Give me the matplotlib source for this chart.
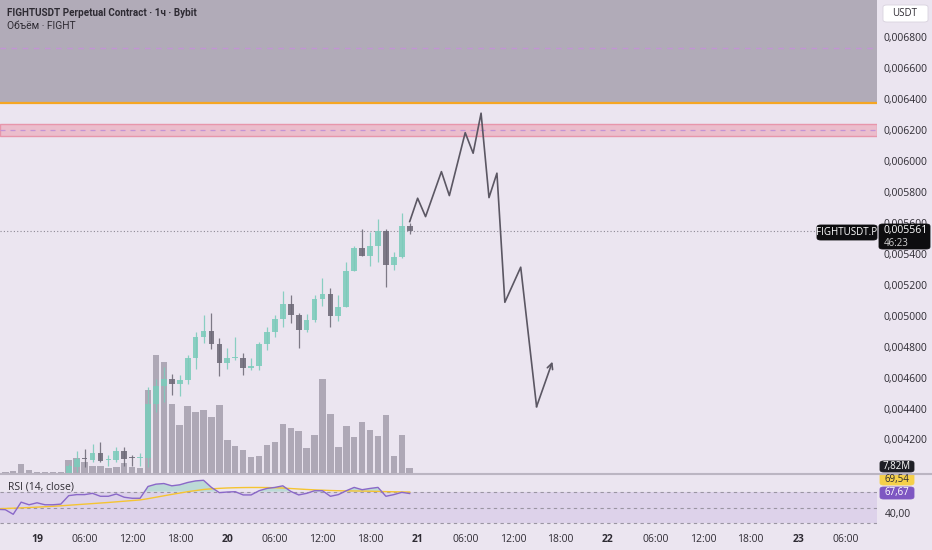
import numpy as np
import matplotlib.pyplot as plt
import matplotlib.transforms as mtransforms
from matplotlib.lines import Line2D
from matplotlib.patches import FancyBboxPatch

plt.rcParams['font.family'] = ['Open Sans', 'DejaVu Sans']

W, H = 932, 550
BG = '#ebe5f0'
TEAL = '#7ccbbb'
DARK = '#6e6a78'
VOLC = '#aea8b6'
TXT = '#2e2b33'

# candles, hours from 19th 00:00
c_hours = list(range(4, 48))
c_open = [0.003993, 0.004032, 0.004090, 0.004077, 0.004122, 0.004074, 0.004077, 0.004135,
          0.004090, 0.004087, 0.004090, 0.004439, 0.004556, 0.004601, 0.004569, 0.004595,
          0.004737, 0.004873, 0.004912, 0.004827, 0.004705, 0.004734, 0.004737, 0.004672,
          0.004685, 0.004827, 0.004905, 0.004989, 0.005086, 0.005015, 0.004918, 0.004983,
          0.005119, 0.005151, 0.005009, 0.005067, 0.005300, 0.005448, 0.005397, 0.005461,
          0.005558, 0.005338, 0.005390, 0.005591]
c_high = [0.004051, 0.004135, 0.004148, 0.004181, 0.004194, 0.004109, 0.004161, 0.004161,
          0.004109, 0.004122, 0.004549, 0.004601, 0.004679, 0.004633, 0.004627, 0.004756,
          0.004905, 0.005015, 0.005028, 0.004866, 0.004802, 0.004873, 0.004769, 0.004737,
          0.004840, 0.004937, 0.005015, 0.005170, 0.005144, 0.005028, 0.005021, 0.005144,
          0.005254, 0.005190, 0.005144, 0.005358, 0.005461, 0.005571, 0.005552, 0.005636,
          0.005571, 0.005423, 0.005675, 0.005610]
c_low = [0.003993, 0.003999, 0.004032, 0.004064, 0.004064, 0.004038, 0.004064, 0.004038,
         0.004038, 0.004038, 0.004032, 0.004388, 0.004452, 0.004498, 0.004491, 0.004569,
         0.004666, 0.004834, 0.004795, 0.004620, 0.004666, 0.004724, 0.004627, 0.004659,
         0.004659, 0.004789, 0.004873, 0.004937, 0.004963, 0.004802, 0.004905, 0.004970,
         0.005073, 0.004937, 0.004976, 0.005067, 0.005300, 0.005397, 0.005332, 0.005358,
         0.005196, 0.005306, 0.005384, 0.005539]
c_close = [0.004038, 0.004084, 0.004084, 0.004122, 0.004071, 0.004080, 0.004135, 0.004084,
           0.004087, 0.004090, 0.004439, 0.004556, 0.004601, 0.004569, 0.004595, 0.004737,
           0.004873, 0.004912, 0.004827, 0.004705, 0.004737, 0.004737, 0.004672, 0.004685,
           0.004827, 0.004905, 0.004989, 0.005086, 0.005015, 0.004918, 0.004983, 0.005119,
           0.005151, 0.005009, 0.005067, 0.005300, 0.005448, 0.005397, 0.005461, 0.005558,
           0.005338, 0.005390, 0.005591, 0.005561]

# volume (millions)
v_hours = list(range(-4, 48))
volume = [1.6, 2.6, 14.5, 4.2, 1.6, 1.6, 1.6, 1.6, 20.8, 23.0, 16.7, 11.4, 10.5, 7.3,
          8.9, 15.6, 8.9, 7.8, 130.2, 184.8, 173.0, 107.8, 75.0, 104.2, 94.8, 98.4,
          87.5, 106.7, 51.1, 41.7, 36.4, 25.0, 27.0, 43.0, 48.8, 77.0, 69.8, 66.1,
          39.1, 59.8, 146.9, 92.2, 40.2, 73.0, 55.8, 79.2, 67.7, 58.3, 90.2, 27.0,
          59.4, 7.82]

# RSI(14) and its moving average
r_hours = list(range(-5, 48))
rsi = [47.7, 47.3, 41.5, 56.8, 53.5, 56.0, 53.5, 53.5, 54.3, 65.0, 66.3, 66.3, 67.9,
       64.2, 64.2, 67.1, 63.0, 61.7, 61.7, 76.6, 79.5, 80.3, 77.4, 78.7, 81.6, 83.6,
       84.4, 75.4, 68.8, 69.6, 70.0, 65.9, 65.9, 71.2, 74.1, 75.4, 77.4, 70.4, 65.9,
       67.9, 71.2, 71.2, 64.2, 66.3, 71.2, 75.4, 72.5, 74.1, 75.4, 64.2, 66.3, 69.2, 67.67]
rsi_ma = [48.5, 48.8, 49.2, 49.6, 50.0, 50.5, 51.0, 51.6, 52.2, 52.9, 53.6, 54.3, 55.0,
          55.7, 56.4, 57.2, 58.0, 58.8, 59.6, 61.2, 63.0, 64.8, 66.6, 68.3, 70.0, 71.4,
          72.8, 73.6, 74.2, 74.7, 75.0, 75.2, 75.3, 75.3, 75.2, 75.0, 74.6, 74.0, 73.4,
          72.8, 72.3, 71.9, 71.5, 71.2, 71.0, 70.9, 70.8, 70.6, 70.4, 70.1, 69.9, 69.7, 69.54]

# drawn projection path
proj_hours = [47, 48, 49, 51, 52, 54, 55, 56, 57, 58, 59, 61, 63, 65]
proj_price = [0.005619, 0.005770, 0.005651, 0.005942, 0.005787, 0.006194, 0.006061,
              0.006320, 0.005774, 0.005932, 0.005097, 0.005324, 0.004422, 0.004713]

price_ticks = [0.0068, 0.0066, 0.0064, 0.0062, 0.0060, 0.0058, 0.0056, 0.0054,
               0.0052, 0.0050, 0.0048, 0.0046, 0.0044, 0.0042]
time_ticks = [0, 6, 12, 18, 24, 30, 36, 42, 48, 54, 60, 66, 72, 78, 84, 90, 96, 102]
time_labels = ['19', '06:00', '12:00', '18:00', '20', '06:00', '12:00', '18:00',
               '21', '06:00', '12:00', '18:00', '22', '06:00', '12:00', '18:00', '23', '06:00']

last_price = 0.005561
zone_top = 0.006383
pink_lo, pink_hi = 0.006173, 0.006250


def rect(x0, y0, x1, y1):
    # pixel box (top-left origin) -> figure fraction
    return [x0 / W, 1 - y1 / H, (x1 - x0) / W, (y1 - y0) / H]


fig = plt.figure(figsize=(W / 100, H / 100), dpi=100, facecolor=BG)

xlim = (-4.666, 105.93)
ax_vol = fig.add_axes(rect(0, 0, 877, 473))
ax = fig.add_axes(rect(0, 0, 877, 473), sharex=ax_vol)
ax_rsi = fig.add_axes(rect(0, 475, 877, 528), sharex=ax_vol)

ax_vol.set_facecolor(BG)
ax.patch.set_alpha(0)
ax_rsi.set_facecolor(BG)

for a in (ax_vol, ax, ax_rsi):
    a.set_xlim(*xlim)
    for s in a.spines.values():
        s.set_visible(False)
    a.set_xticks([])
    a.set_yticks([])

# volume
ax_vol.bar(v_hours, volume, width=0.82, color=VOLC, linewidth=0)
ax_vol.set_ylim(0, 739)

# price pane
ax.set_ylim(0.003993, 0.007052)
ax.axhspan(zone_top, 0.0072, color='#b1abb8', linewidth=0, zorder=1)
ax.axhline(zone_top, color='#f5a623', lw=1.6, zorder=2)
ax.axhline(0.006742, color='#c393d6', lw=1.0, ls=(0, (4, 4)), zorder=2)
ax.axhspan(pink_lo, pink_hi, facecolor='#ebbdcc', edgecolor='#e796ab', lw=1.0, zorder=1)
ax.axhline((pink_lo + pink_hi) / 2, color='#c393d6', lw=0.9, ls=(0, (4, 4)), zorder=2)
ax.axhline(last_price, color='#8d8895', lw=0.8, ls=(0, (1, 2)), zorder=2)

for h, o, hi, lo, c in zip(c_hours, c_open, c_high, c_low, c_close):
    col = TEAL if c >= o else DARK
    ax.vlines(h, lo, hi, color=col, lw=0.9, alpha=0.88, zorder=3)
    body = max(abs(c - o), 0.0000085)
    ax.bar(h, body, bottom=min(o, c), width=0.72, color=col, alpha=0.88,
           linewidth=0, zorder=4)

ax.plot(proj_hours[:-1], proj_price[:-1], color='#5b5763', lw=1.2, zorder=5)
ax.annotate('', xy=(proj_hours[-1], proj_price[-1]), xytext=(proj_hours[-2], proj_price[-2]),
            arrowprops=dict(arrowstyle='->', color='#5b5763', lw=1.2,
                            shrinkA=0, shrinkB=0, mutation_scale=10), zorder=5)

# price axis labels
tr = mtransforms.blended_transform_factory(ax.transAxes, ax.transData)
for p in price_ticks:
    ax.text(883 / 877, p, f'{p:.6f}'.replace('.', ','), transform=tr, ha='left',
            va='center', fontsize=7.5, color=TXT, clip_on=False)

# headers
hdr_font = ['Roboto', 'DejaVu Sans']
fig.text(7 / W, 1 - 13 / H, 'FIGHTUSDT Perpetual Contract · 1ч · Bybit', fontsize=7.1,
         fontweight='bold', color=TXT, va='center', family=hdr_font)
fig.text(7 / W, 1 - 26 / H, 'Объём · FIGHT', fontsize=7.4, color=TXT, va='center',
         family=hdr_font)


def label_box(x0, y0, x1, y1, fc, ec=None):
    fig.patches.append(FancyBboxPatch((x0 / W, 1 - y1 / H), (x1 - x0) / W, (y1 - y0) / H,
                                      boxstyle='round,pad=0,rounding_size=0.004',
                                      transform=fig.transFigure, fc=fc,
                                      ec=ec if ec else fc, lw=0.6))


label_box(883, 5, 928, 22, 'white', '#d8d2de')
fig.text(905 / W, 1 - 13.5 / H, 'USDT', fontsize=7, color=TXT, ha='center', va='center')

label_box(817, 225, 877, 240, '#0d0d0f')
fig.text(847 / W, 1 - 232.5 / H, 'FIGHTUSDT.P', fontsize=7, color='white',
         ha='center', va='center')
label_box(879, 224, 930, 249, '#0d0d0f')
fig.text(884 / W, 1 - 231 / H, '0,005561', fontsize=7.5, color='white', va='center')
fig.text(884 / W, 1 - 243 / H, '46:23', fontsize=7, color='#d0d0d0', va='center')

# separator
fig.add_artist(Line2D([0, 1], [1 - 474 / H, 1 - 474 / H], color='#bbb5c2', lw=1.5,
                      transform=fig.transFigure))

label_box(880, 461, 914, 472, '#1e1f26')
fig.text(897 / W, 1 - 466.5 / H, '7,82M', fontsize=7, color='white', ha='center', va='center')

# RSI pane
ax_rsi.set_ylim(24.2, 91.05)
ax_rsi.axhspan(30, 70, color='#ddd2ea', linewidth=0)
for lvl in (70, 50, 30):
    ax_rsi.axhline(lvl, color='#9a95a2', lw=0.8, ls=(0, (3, 3)))
r = np.array(rsi)
ax_rsi.fill_between(r_hours, 70, r, where=r > 70, interpolate=True, color='#8fd0c0',
                    alpha=0.5, linewidth=0)
ax_rsi.plot(r_hours, rsi_ma, color='#f5c431', lw=1.0)
ax_rsi.plot(r_hours, rsi, color='#8a68c8', lw=1.0)
ax_rsi.text(8 / 877, 1 - (487 - 475) / 53, 'RSI (14, close)', transform=ax_rsi.transAxes,
            fontsize=7.5, color=TXT, va='center')

label_box(880, 473.5, 914, 485, '#f5d04a')
fig.text(897 / W, 1 - 479.5 / H, '69,54', fontsize=7, color=TXT, ha='center', va='center')
label_box(880, 487, 914, 499, '#7e57c2')
fig.text(897 / W, 1 - 493 / H, '67,67', fontsize=7, color='white', ha='center', va='center')
fig.text(885 / W, 1 - 514 / H, '40,00', fontsize=7.5, color=TXT, va='center')

# time axis
trt = mtransforms.blended_transform_factory(ax_rsi.transData, fig.transFigure)
for t, lab in zip(time_ticks, time_labels):
    bold = ':' not in lab
    ax_rsi.text(t, 1 - 539 / H, lab, transform=trt, ha='center', va='center',
                fontsize=7.5, fontweight='bold' if bold else 'normal',
                color=TXT, clip_on=False)

fig.savefig('out.png', dpi=100, facecolor=BG)
